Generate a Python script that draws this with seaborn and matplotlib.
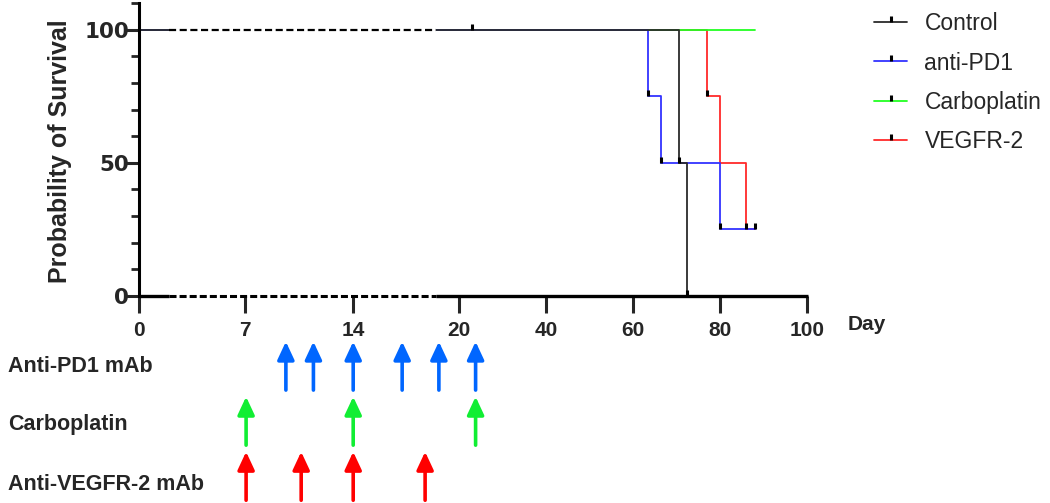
import numpy as np
import pandas as pd
import seaborn as sns
import matplotlib.pyplot as plt
import matplotlib.transforms as mtransforms
from matplotlib.lines import Line2D
from matplotlib.ticker import MultipleLocator, FixedLocator

# survival curves (day, % survival), step-post
control_t = [0, 70.5, 72.5]
control_s = [100, 50, 0]
pd1_t = [0, 63.5, 66.5, 80, 88]
pd1_s = [100, 75, 50, 25, 25]
carbo_t = [0, 88]
carbo_s = [100, 100]
vegfr_t = [0, 77, 80, 86, 88]
vegfr_s = [100, 75, 50, 25, 25]

# tick marks on the curves
mark_t = [23, 70.5, 72.5, 63.5, 66.5, 80, 88, 77, 86]
mark_s = [100, 50, 0, 75, 50, 25, 25, 75, 25]

groups = ["Control", "anti-PD1", "Carboplatin", "VEGFR-2"]
colors = {"Control": "#2b2b2b", "anti-PD1": "#3333ff",
          "Carboplatin": "#22ff22", "VEGFR-2": "#ff2a2a"}

x_ticks = [0, 7, 14, 20, 40, 60, 80, 100]

# treatment schedule (days)
sched_rows = ["Anti-PD1 mAb", "Carboplatin", "Anti-VEGFR-2 mAb"]
pd1_doses = [9.6, 11.4, 14, 17.2, 19.6, 22]
carbo_doses = [7, 14, 22]
vegfr_doses = [7, 10.6, 14, 18.7]
sched_colors = ["#0066ff", "#11ee33", "#ff0000"]

df = pd.concat([
    pd.DataFrame({"day": control_t, "surv": control_s, "group": "Control"}),
    pd.DataFrame({"day": pd1_t, "surv": pd1_s, "group": "anti-PD1"}),
    pd.DataFrame({"day": carbo_t, "surv": carbo_s, "group": "Carboplatin"}),
    pd.DataFrame({"day": vegfr_t, "surv": vegfr_s, "group": "VEGFR-2"}),
], ignore_index=True)

sns.set_style("white")
plt.rcParams["font.family"] = ["Liberation Sans", "DejaVu Sans"]

W, H = 1050, 503
fig = plt.figure(figsize=(W / 100, H / 100), dpi=100)

# broken x axis: 0-20 stretched, 20-100 compressed
kx = [-100, 0, 7, 14, 20, 100, 200]
kp = [-1514, 0, 106, 214, 320, 668, 1103]
fwd = lambda x: np.interp(x, kx, kp)
inv = lambda p: np.interp(p, kp, kx)

ax = fig.add_axes([139 / W, (H - 296) / H, 668 / W, 293 / H])
ax.set_xscale("function", functions=(fwd, inv))

draw_order = ["VEGFR-2", "Carboplatin", "anti-PD1", "Control"]
sns.lineplot(data=df, x="day", y="surv", hue="group", hue_order=draw_order,
             palette=colors, drawstyle="steps-post", estimator=None,
             sort=False, lw=1.3, legend=False, ax=ax)
ax.plot(mark_t, mark_s, ls="none", marker=2, ms=4.5, mew=2.2, color="black",
        zorder=6, clip_on=False)

# dashed break segments
ax.plot([2, 18.7], [100, 100], color="white", lw=4, zorder=4, solid_capstyle="butt")
ax.plot([2, 18.7], [100, 100], color="black", lw=1.6, dashes=(3.2, 1.6), zorder=5)
ax.plot([0, 2], [0, 0], color="black", lw=2.4, clip_on=False, zorder=5, solid_capstyle="butt")
ax.plot([2, 18.7], [0, 0], color="black", lw=2.2, dashes=(2.3, 1.0), clip_on=False, zorder=5)
ax.plot([18.7, 100.3], [0, 0], color="black", lw=2.4, clip_on=False, zorder=5, solid_capstyle="butt")

ax.set_xlim(0, 100)
ax.set_ylim(0, 110)
ax.set_xticks(x_ticks)
ax.set_xticklabels([str(t) for t in x_ticks], fontweight="bold", fontsize=15)
ax.xaxis.set_minor_locator(FixedLocator([]))
ax.set_yticks([0, 50, 100])
ax.set_yticklabels(["0", "50", "100"], fontweight="bold", fontsize=15.5,
                   family="DejaVu Sans")
ax.yaxis.set_minor_locator(MultipleLocator(10))
ax.tick_params(axis="x", which="major", direction="out", length=12, width=2.2,
               pad=6, bottom=True)
ax.tick_params(axis="y", which="major", direction="out", length=10, width=2.2,
               pad=-3, left=True)
ax.tick_params(axis="y", which="minor", direction="out", length=6, width=2.0,
               left=True)
for s in ["top", "right", "bottom"]:
    ax.spines[s].set_visible(False)
ax.spines["left"].set_linewidth(2.2)
ax.spines["left"].set_color("black")
ax.set_xlabel("")
ax.set_ylabel("")

fig.text(60 / W, 1 - 151 / H, "Probability of Survival", rotation=90,
         ha="center", va="center", fontsize=18, fontweight="bold")
fig.text(848 / W, 1 - 325 / H, "Day", ha="left", va="center",
         fontsize=15, fontweight="bold")

handles = [Line2D([], [], color=colors[g], lw=1.3, marker=2, ms=4.5, mew=2.2,
                  mec="black") for g in groups]
fig.legend(handles, groups, loc="upper left", bbox_to_anchor=(874 / W, 1 - 12 / H),
           frameon=False, fontsize=16.5, handlelength=1.45, handletextpad=0.75,
           labelspacing=0.72, borderpad=0, borderaxespad=0)

# schedule panel
px_per_day = 15.3
ax2 = fig.add_axes([139 / W, 0, 668 / W, (H - 335) / H])
ax2.set_xlim(0, 668 / px_per_day)
ax2.set_ylim(2.49, -0.56)
ax2.axis("off")
trans = mtransforms.blended_transform_factory(fig.transFigure, ax2.transData)
label_off = [0.02, 0.07, 0.16]
for i, (row, doses) in enumerate(zip(sched_rows, [pd1_doses, carbo_doses, vegfr_doses])):
    for d in doses:
        ax2.annotate("", xy=(d, i - 0.44), xytext=(d, i + 0.44),
                     arrowprops=dict(arrowstyle="-|>,head_length=0.6,head_width=0.28",
                                     color=sched_colors[i], lw=2.6,
                                     shrinkA=0, shrinkB=0, mutation_scale=18))
    ax2.text(8 / W, i + label_off[i], row, transform=trans, ha="left", va="center",
             fontsize=15.5, fontweight="bold")

fig.savefig("out.png", dpi=100)
